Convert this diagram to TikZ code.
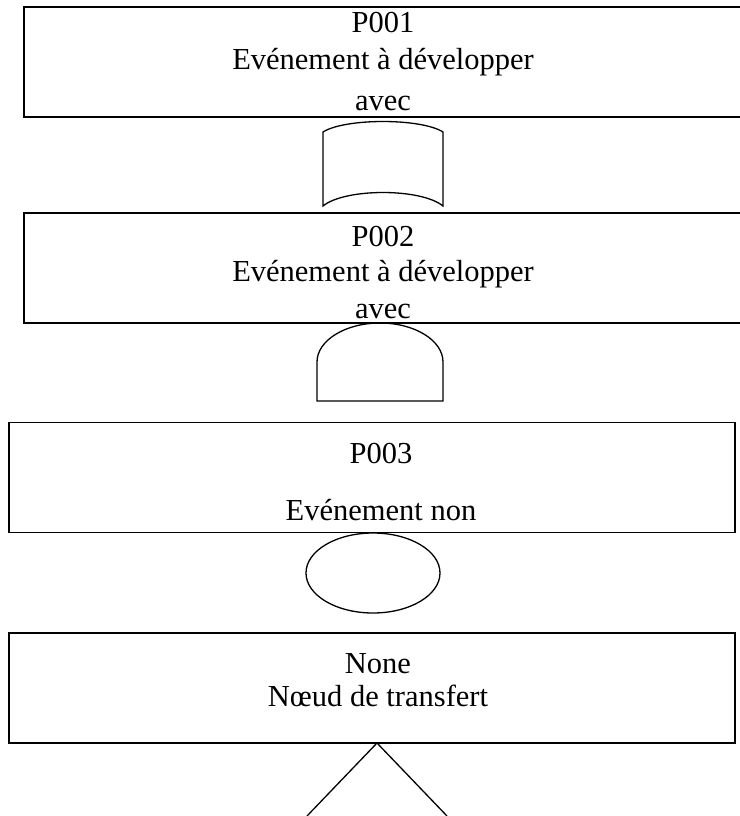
\documentclass[tikz,border=0pt]{standalone}
\usepackage{fontspec}
\setmainfont{Liberation Serif}
\begin{document}
\begin{tikzpicture}[x=1pt,y=-1pt,
  evtbox/.style={draw,line width=1.6pt,minimum width=#1,minimum height=110pt,inner sep=0pt},
  evttext/.style={font=\fontsize{30.5}{36}\selectfont,anchor=base,inner sep=0pt},
  symb/.style={draw,line width=1.3pt}]
  \useasboundingbox (0,0) rectangle (739,816);
  % event boxes
  \node[evtbox=718pt] (B1) at (383,62) {};
  \node[evtbox=718pt] (B2) at (383,268) {};
  \node[evtbox=726pt] (B3) at (372,477.5) {};
  \node[evtbox=726pt] (B4) at (372,688) {};
  % labels
  \node[evttext] (B1id)  at (383,33)  {P001};
  \node[evttext] (B1txt) at (383,70)  {Evénement à développer};
  \node[evttext] (B1sub) at (383,110) {avec};
  \node[evttext] (B2id)  at (383,246) {P002};
  \node[evttext] (B2txt) at (383,281) {Evénement à développer};
  \node[evttext] (B2sub) at (383,318) {avec};
  \node[evttext] (B3id)  at (381,463) {P003};
  \node[evttext] (B3txt) at (381,520) {Evénement non};
  \node[evttext] (B4id)  at (378,673) {None};
  \node[evttext] (B4txt) at (378,706) {Nœud de transfert};
  % symbols
  \draw[symb] (323,206) -- (323,132) .. controls (345,118) and (421,118) .. (443,132)
    -- (443,206) .. controls (421,188) and (345,188) .. cycle;
  \draw[symb] (317,401) -- (317,362) arc[start angle=180,end angle=0,x radius=63,y radius=-39]
    -- (443,401) -- cycle;
  \draw[symb] (373,573) ellipse[x radius=67,y radius=40];
  \draw[symb] (307,816) -- (377,743) -- (447,816);
\end{tikzpicture}
\end{document}
